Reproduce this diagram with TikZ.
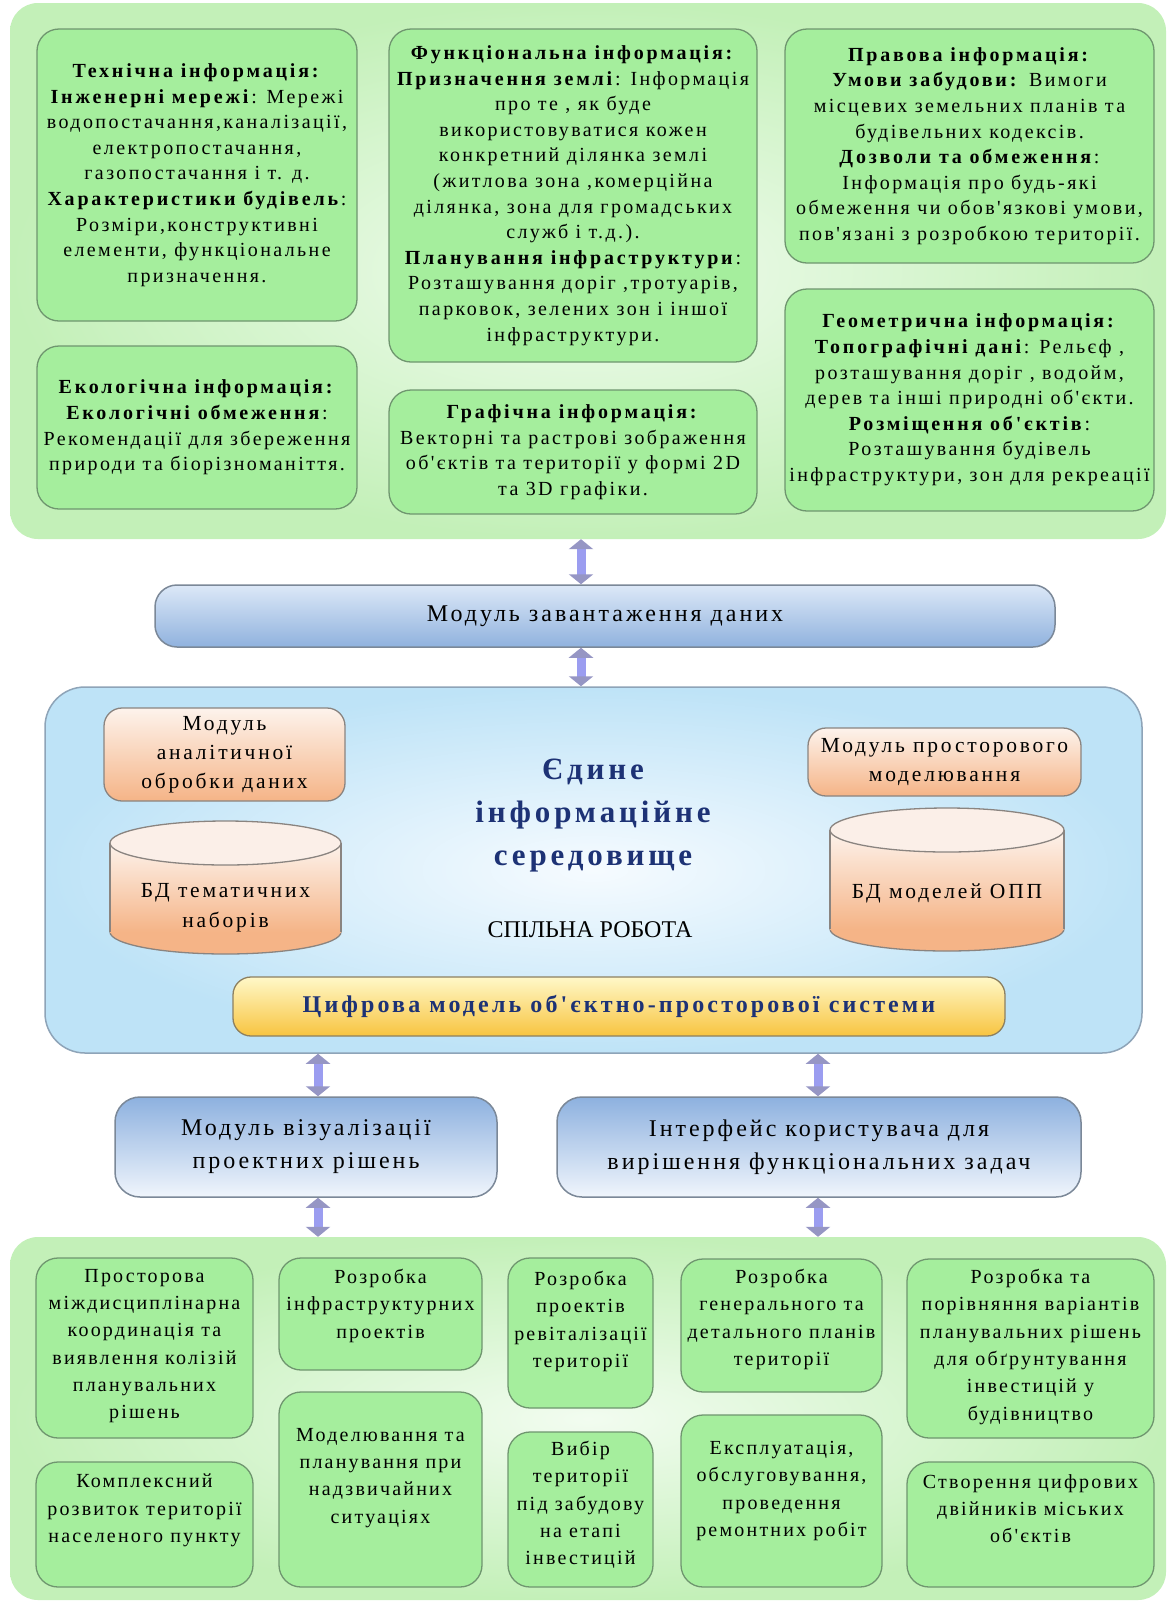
\documentclass[tikz,border=0pt]{standalone}
\usepackage{fontspec}
\setmainfont{Liberation Serif}
\newfontfamily\spA{Liberation Serif}[LetterSpace=12, BoldFeatures={LetterSpace=14}]
\newfontfamily\spB{Liberation Serif}[LetterSpace=11]
\newfontfamily\spC{Liberation Serif}[LetterSpace=12.5]
\newfontfamily\spD{Liberation Serif}[LetterSpace=13]
\usetikzlibrary{arrows.meta}

\definecolor{boxgreen}{HTML}{A5EE9D}
\definecolor{boxedge}{HTML}{6F966F}
\definecolor{contin}{HTML}{F2FCF0}
\definecolor{contout}{HTML}{C3F0B8}
\definecolor{bluein}{HTML}{F6FBFF}
\definecolor{blueout}{HTML}{BEE3F7}
\definecolor{blueedge}{HTML}{8EA4B8}
\definecolor{loadtop}{HTML}{DCE8F7}
\definecolor{loadbot}{HTML}{90B2DE}
\definecolor{navyedge}{HTML}{7B8898}
\definecolor{viztop}{HTML}{8DB1DF}
\definecolor{vizbot}{HTML}{F0F5FC}
\definecolor{peachtop}{HTML}{FDF3EC}
\definecolor{peachbot}{HTML}{F5B487}
\definecolor{peachedge}{HTML}{8A8480}
\definecolor{cyltop}{HTML}{FBEFE8}
\definecolor{yeltop}{HTML}{FFF8C8}
\definecolor{yelbot}{HTML}{F8C440}
\definecolor{yeledge}{HTML}{8D8060}
\definecolor{darkblue}{HTML}{1D3275}
\definecolor{arrowc}{HTML}{9B9DF0}
\definecolor{arrowhd}{HTML}{9696C4}

\newcommand\gfont{\spA\fontsize{20}{25.6}\selectfont}
\newcommand\bfont{\spB\fontsize{20}{27.3}\selectfont}

% green box with its text placed from the top
\newcommand\bbox[7]{%
  \node[gbox, minimum width=#4pt, minimum height=#5pt] (#1) at (#2,#3) {};
  \node[btext, anchor=north] (#1t) at (#2,#6) {#7};
}

\begin{document}
\begin{tikzpicture}[x=1pt,y=-1pt,
  cont/.style={rounded corners=28pt, shading=radial, inner color=contin, outer color=contout, draw=none, inner sep=0pt},
  gbox/.style={rounded corners=22pt, fill=boxgreen, draw=boxedge, line width=1.3pt, align=center, inner sep=0pt, font=\gfont},
  btext/.style={align=center, inner sep=0pt, font=\bfont},
  bluecont/.style={rounded corners=40pt, shading=radial, inner color=bluein, outer color=blueout, draw=blueedge, line width=1.5pt, inner sep=0pt},
  loadbox/.style={rounded corners=22pt, top color=loadtop, bottom color=loadbot, draw=navyedge, line width=1.5pt, inner sep=0pt, align=center, font=\spC\fontsize{24}{30}\selectfont},
  vizbox/.style={rounded corners=25pt, top color=viztop, bottom color=vizbot, draw=navyedge, line width=1.5pt, inner sep=0pt, align=center, font=\spC\fontsize{24}{33}\selectfont},
  peachbox/.style={rounded corners=18pt, top color=peachtop, bottom color=peachbot, draw=peachedge, line width=1.3pt, inner sep=0pt, align=center, font=\spD\fontsize{21.5}{29}\selectfont},
  yelbox/.style={rounded corners=18pt, top color=yeltop, bottom color=yelbot, draw=yeledge, line width=1.3pt, inner sep=0pt, align=center, text=darkblue, font=\spD\bfseries\fontsize{24}{28}\selectfont},
  cyltext/.style={align=center, inner sep=0pt, font=\spD\fontsize{21.5}{30}\selectfont},
  dbl/.style={line width=9pt, draw=arrowc, arrows={Triangle[width=24pt,length=10pt,color=arrowhd]-Triangle[width=24pt,length=10pt,color=arrowhd]}}
]
\useasboundingbox (0,0) rectangle (1171,1604);
\fill[white] (0,0) rectangle (1171,1604);

% ---------- top group: kinds of information ----------
\node[cont, minimum width=1156pt, minimum height=536pt] (topc) at (588,271) {};

\node[gbox, minimum width=320pt, minimum height=292pt] (tech) at (197,175) {%
\textbf{Технічна інформація:}\\
\textbf{Інженерні мережі}: Мережі\\
водопостачання,каналізації,\\
електропостачання,\\
газопостачання і т. д.\\
\textbf{Характеристики будівель}:\\
Розміри,конструктивні\\
елементи, функціональне\\
призначення.};

\node[gbox, minimum width=320pt, minimum height=163pt] (eco) at (197,427.5) {%
\textbf{Екологічна інформація:}\\
\textbf{Екологічні обмеження}:\\
Рекомендації для збереження\\
природи та біорізноманіття.};

\node[gbox, minimum width=368pt, minimum height=333pt] (func) at (573,195.5) {%
\textbf{Функціональна інформація:}\\
\textbf{Призначення землі}: Інформація\\
про те , як буде\\
використовуватися кожен\\
конкретний ділянка землі\\
(житлова зона ,комерційна\\
ділянка, зона для громадських\\
служб і т.д.).\\
\textbf{Планування інфраструктури}:\\
Розташування доріг ,тротуарів,\\
парковок, зелених зон і іншої\\
інфраструктури.};

\node[gbox, minimum width=368pt, minimum height=124pt] (graph) at (573,452) {%
\textbf{Графічна інформація:}\\
Векторні та растрові зображення\\
об'єктів та території у формі 2D\\
та 3D графіки.};

\node[gbox, minimum width=369pt, minimum height=234pt] (legal) at (969.5,146) {%
\textbf{Правова інформація:}\\
\textbf{Умови забудови:} Вимоги\\
місцевих земельних планів та\\
будівельних кодексів.\\
\textbf{Дозволи та обмеження}:\\
Інформація про будь-які\\
обмеження чи обов'язкові умови,\\
пов'язані з розробкою території.};

\node[gbox, minimum width=369pt, minimum height=222pt] (geo) at (969.5,400) {%
\textbf{Геометрична інформація:}\\
\textbf{Топографічні дані}: Рельєф ,\\
розташування доріг , водойм,\\
дерев та інші природні об'єкти.\\
\textbf{Розміщення об'єктів}:\\
Розташування будівель\\
інфраструктури, зон для рекреації};

% ---------- loading module ----------
\node[loadbox, minimum width=900pt, minimum height=62pt] (load) at (605,616) {Модуль завантаження даних};

% ---------- common information environment ----------
\node[bluecont, minimum width=1097pt, minimum height=366pt] (env) at (593.5,870) {};

\node[peachbox, minimum width=241pt, minimum height=93pt] (anal) at (224.5,754.5) {Модуль\\аналітичної\\обробки даних};
\node[peachbox, minimum width=273pt, minimum height=68pt] (spat) at (944.5,762) {Модуль просторового\\моделювання};

% databases drawn as cylinders
\fill[peachbot, draw=peachedge, line width=1.3pt] (225.5,932) ellipse [x radius=115.5, y radius=22];
\shade[top color=peachtop, bottom color=peachbot] (110,843) rectangle (341,932);
\draw[peachedge, line width=1.3pt] (110,843) -- (110,932) (341,843) -- (341,932);
\filldraw[fill=cyltop, draw=peachedge, line width=1.3pt] (225.5,843) ellipse [x radius=115.5, y radius=22];
\node[cyltext] (dbthem) at (225.5,908) {БД тематичних\\наборів};

\fill[peachbot, draw=peachedge, line width=1.3pt] (947,929) ellipse [x radius=117, y radius=22];
\shade[top color=peachtop, bottom color=peachbot] (830,830) rectangle (1064,929);
\draw[peachedge, line width=1.3pt] (830,830) -- (830,929) (1064,830) -- (1064,929);
\filldraw[fill=cyltop, draw=peachedge, line width=1.3pt] (947,830) ellipse [x radius=117, y radius=22];
\node[cyltext] (dbmod) at (947,893) {БД моделей ОПП};

\node[align=center, inner sep=0pt, text=darkblue, font=\spC\bfseries\fontsize{31}{43}\selectfont] (title) at (593,816) {Єдине\\інформаційне\\середовище};
\node[inner sep=0pt, font=\fontsize{24}{28}\selectfont] (collab) at (590,930) {СПІЛЬНА РОБОТА};

\node[yelbox, minimum width=772pt, minimum height=59pt] (dmodel) at (619,1006.5) {Цифрова модель об'єктно-просторової системи};

% ---------- user-facing modules ----------
\node[vizbox, minimum width=382pt, minimum height=100pt] (viz) at (306,1147) {Модуль візуалізації\\проектних рішень};
\node[vizbox, minimum width=524pt, minimum height=100pt] (ui) at (819,1147) {Інтерфейс користувача для\\вирішення функціональних задач};

% ---------- bottom group: tasks ----------
\node[cont, minimum width=1156pt, minimum height=363pt] (botc) at (588,1418.5) {};

\bbox{t1}{144.5}{1348}{217}{180}{1269}{Просторова\\міждисциплінарна\\координація та\\виявлення колізій\\планувальних\\рішень}
\bbox{t2}{144.5}{1524.5}{217}{125}{1474}{Комплексний\\розвиток території\\населеного пункту}
\bbox{t3}{380.5}{1314}{203}{112}{1269}{Розробка\\інфраструктурних\\проектів}
\bbox{t4}{380.5}{1489.5}{203}{195}{1428}{Моделювання та\\планування при\\надзвичайних\\ситуаціях}
\bbox{t5}{580.5}{1333}{145}{150}{1271}{Розробка\\проектів\\ревіталізації\\території}
\bbox{t6}{580.5}{1509.5}{145}{155}{1441}{Вибір\\території\\під забудову\\на етапі\\інвестицій}
\bbox{t7}{781.5}{1325.5}{201}{133}{1269}{Розробка\\генерального та\\детального планів\\території}
\bbox{t8}{781.5}{1501}{201}{172}{1441}{Експлуатація,\\обслуговування,\\проведення\\ремонтних робіт}
\bbox{t9}{1030.5}{1348.5}{247}{179}{1269}{Розробка та\\порівняння варіантів\\планувальних рішень\\для обґрунтування\\інвестицій у\\будівництво}
\bbox{t10}{1030.5}{1524.5}{247}{125}{1474}{Створення цифрових\\двійників міських\\об'єктів}

% ---------- two-way data flows ----------
\coordinate (ax1) at (581,0);
\coordinate (ax2) at (318,0);
\coordinate (ax3) at (818,0);
\draw[dbl] (topc.south -| ax1) -- (load.north -| ax1);
\draw[dbl] (load.south -| ax1) -- (env.north -| ax1);
\draw[dbl] (env.south -| ax2) -- (viz.north -| ax2);
\draw[dbl] (env.south -| ax3) -- (ui.north -| ax3);
\draw[dbl] (viz.south -| ax2) -- (botc.north -| ax2);
\draw[dbl] (ui.south -| ax3) -- (botc.north -| ax3);
\end{tikzpicture}
\end{document}
